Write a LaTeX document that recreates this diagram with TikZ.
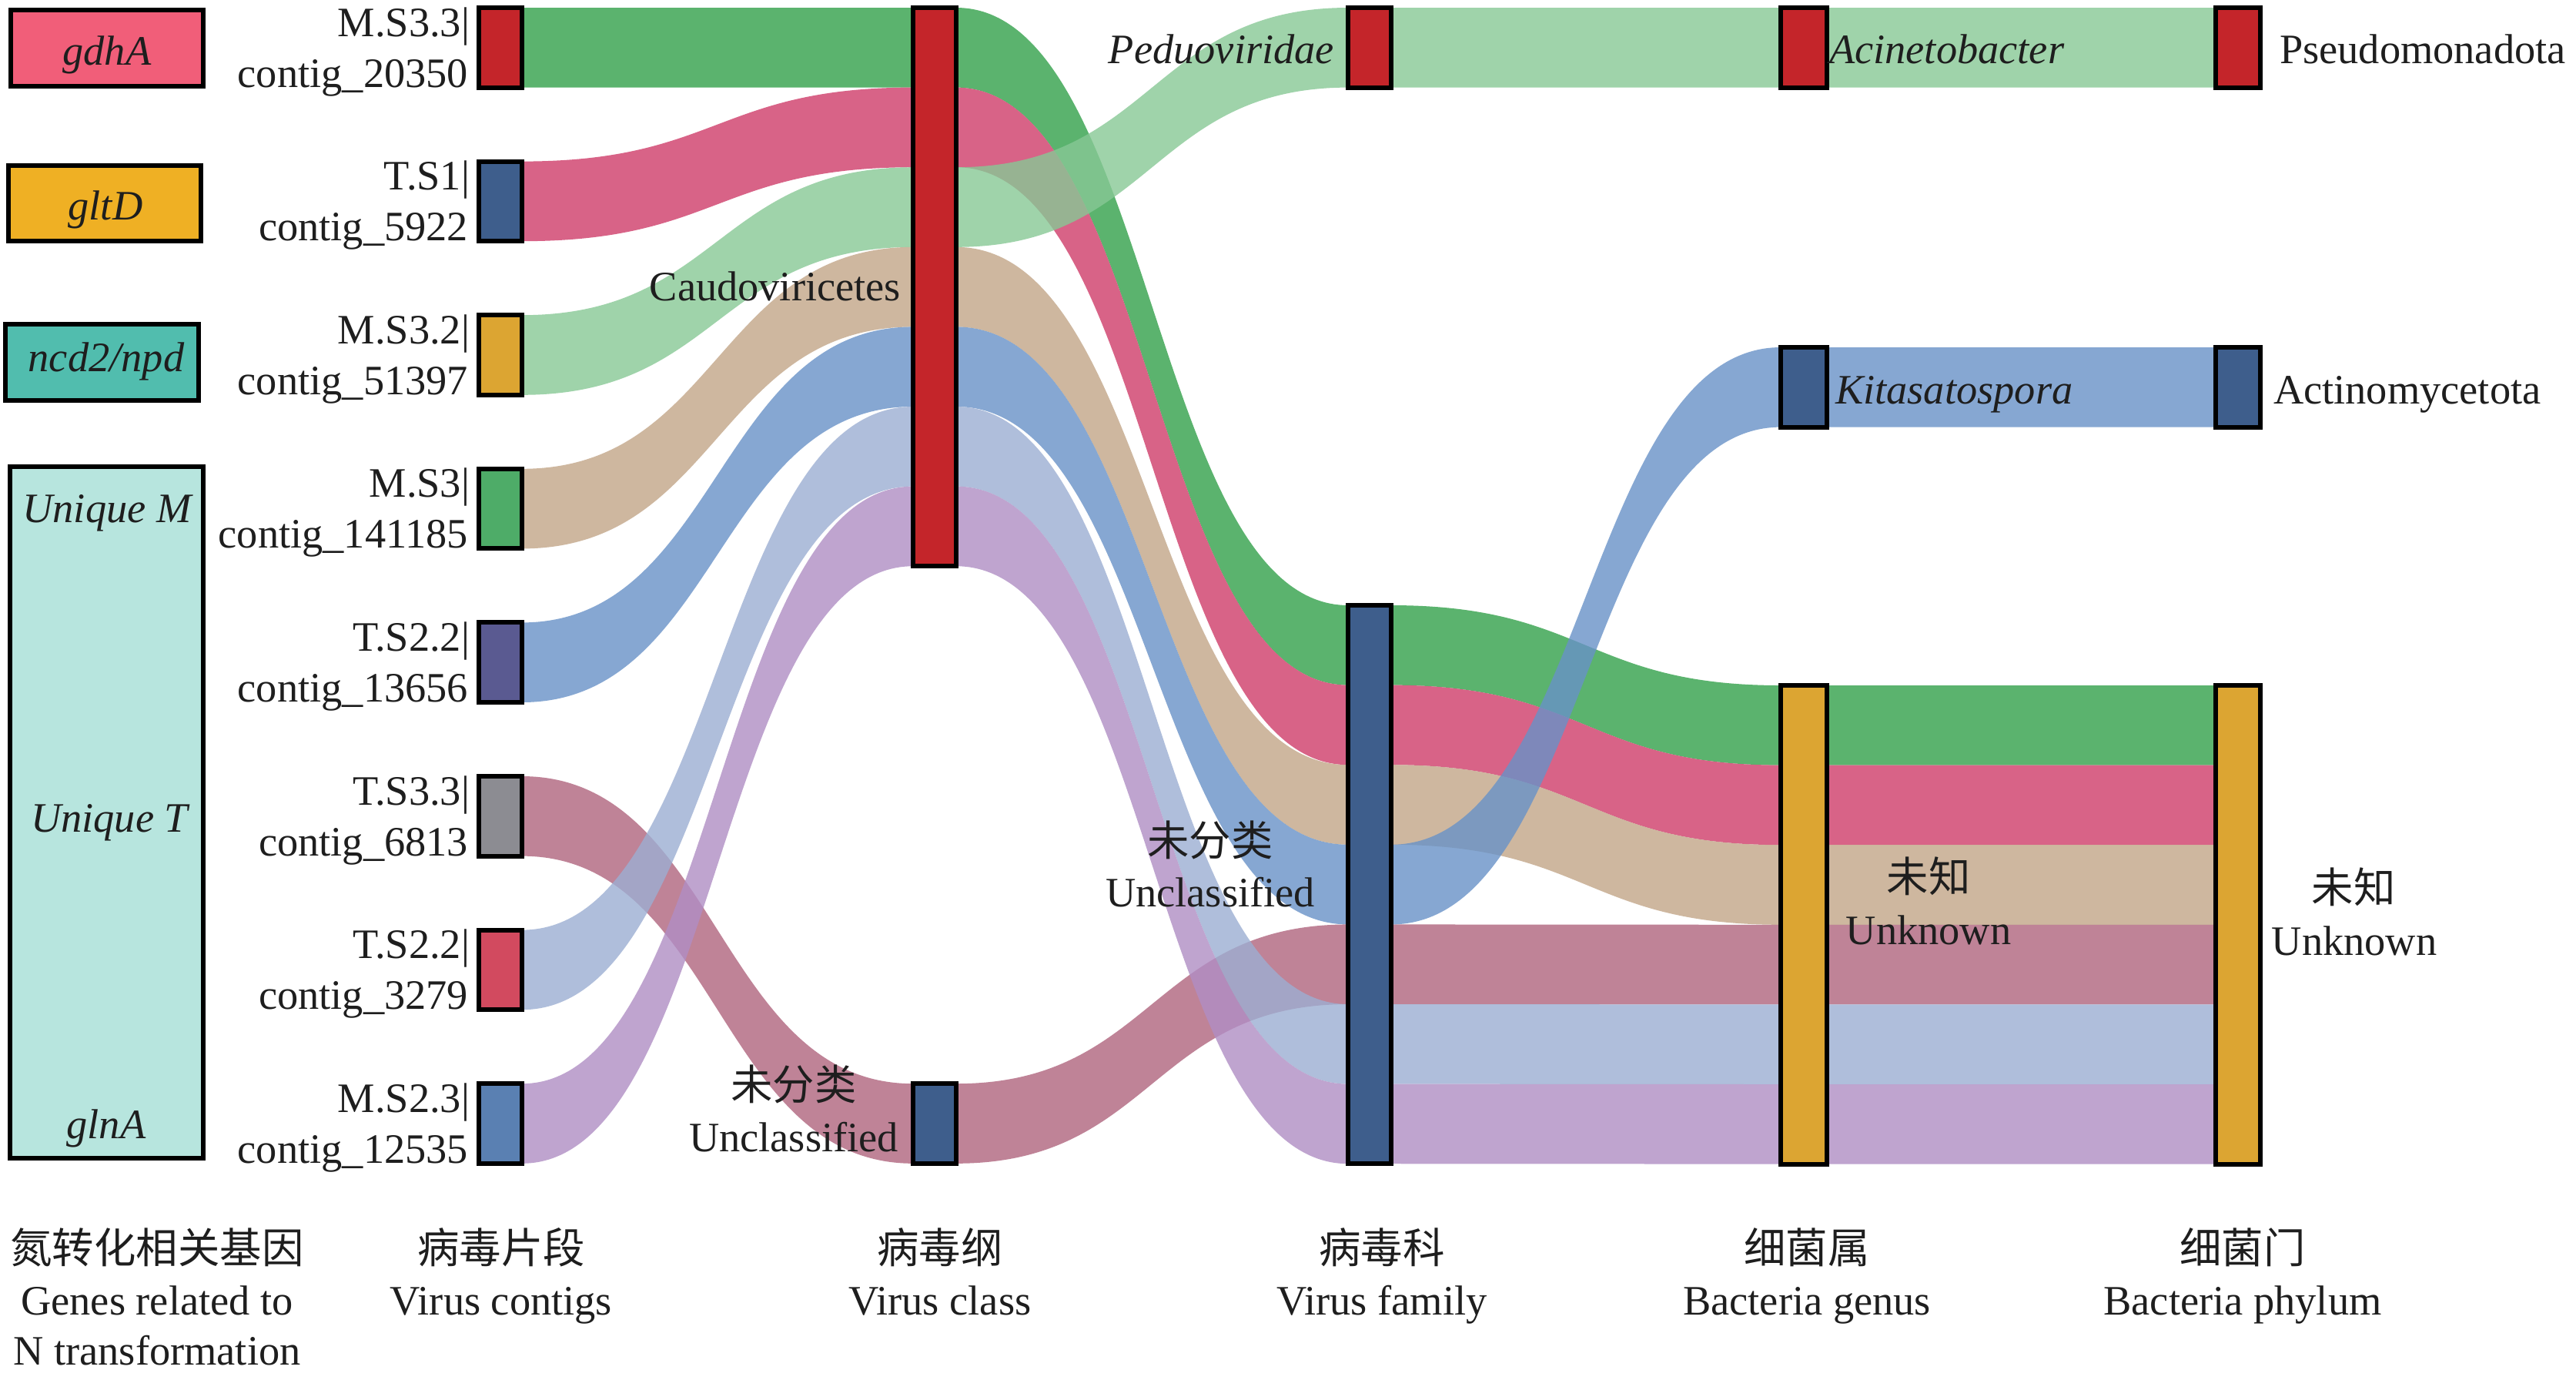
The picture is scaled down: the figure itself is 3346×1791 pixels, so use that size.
\documentclass[tikz,border=0pt]{standalone}
\usepackage{fontspec}
\setmainfont{Liberation Serif}
\newfontfamily\cjk{Noto Sans CJK SC}
\usetikzlibrary{calc,backgrounds}
\definecolor{cred}{RGB}{196,37,42}
\definecolor{cdblue}{RGB}{62,94,140}
\definecolor{cgold}{RGB}{220,165,50}
\definecolor{cgreen}{RGB}{78,172,104}
\definecolor{cslate}{RGB}{90,90,145}
\definecolor{cgray}{RGB}{140,140,146}
\definecolor{crose}{RGB}{210,74,95}
\definecolor{csteel}{RGB}{90,128,178}
\definecolor{ggdha}{RGB}{241,94,121}
\definecolor{ggltd}{RGB}{239,176,36}
\definecolor{gncd}{RGB}{81,189,174}
\definecolor{guniq}{RGB}{183,229,222}
\definecolor{fgreen}{RGB}{50,160,74}
\definecolor{fpink}{RGB}{207,61,106}
\definecolor{flgreen}{RGB}{135,200,149}
\definecolor{ftan}{RGB}{194,165,136}
\definecolor{fblue}{RGB}{104,146,199}
\definecolor{fmauve}{RGB}{176,100,126}
\definecolor{flblue}{RGB}{156,174,210}
\definecolor{fpurple}{RGB}{176,142,196}
\definecolor{txt}{RGB}{30,30,30}
\def\slotpt{25.9}
\newcommand\flowband[5]{%
  \fill[#1, flowfill] let \p1=(#2.north east), \p2=(#4.north west),
    \n1={(\x1+\x2)/2}, \n2={\y1-#3*\slotpt}, \n3={\y2-#5*\slotpt},
    \n4={\y1-(#3+1)*\slotpt}, \n5={\y2-(#5+1)*\slotpt} in
    (\x1,\n2) .. controls (\n1,\n2) and (\n1,\n3) .. (\x2,\n3)
    -- (\x2,\n5) .. controls (\n1,\n5) and (\n1,\n4) .. (\x1,\n4) -- cycle;}
\begin{document}
\begin{tikzpicture}[x=0.25pt, y=-0.25pt,
  font=\fontsize{13.6}{16.5}\selectfont,
  bar/.style={rectangle, draw=black, line width=1.5pt, minimum width=14pt, inner sep=0pt, outer sep=0pt},
  genebox/.style={rectangle, draw=black, line width=1.5pt, inner sep=0pt, outer sep=0pt},
  lbl/.style={inner sep=0pt, outer sep=0pt, text=txt},
  ilbl/.style={lbl, font=\fontsize{13.6}{16.5}\selectfont\itshape},
  clbl/.style={lbl, font=\fontsize{13.6}{16.5}\selectfont\cjk},
  flowfill/.style={fill opacity=0.8}]
\useasboundingbox (0,0) rectangle (3346,1791);

% gene boxes
\node[genebox, fill=ggdha, minimum width=62.5pt, minimum height=24.75pt] (gdha) at (139,62.5) {};
\node[genebox, fill=ggltd, minimum width=62.5pt, minimum height=24.5pt] (gltd) at (136,264) {};
\node[genebox, fill=gncd, minimum width=62.75pt, minimum height=24.75pt] (ncd) at (132.5,470.5) {};
\node[genebox, fill=guniq, minimum width=62.75pt, minimum height=224.5pt] (uniq) at (138.5,1055) {};
\node[ilbl, anchor=base] (gdhat) at (139,84) {gdhA};
\node[ilbl, anchor=base] (gltdt) at (137,285) {gltD};
\node[ilbl, anchor=base] (ncdt) at (138,482) {ncd2/npd};
\node[ilbl, anchor=base] (umt) at (139,678) {Unique M};
\node[ilbl, anchor=base] (utt) at (142,1080) {Unique T};
\node[ilbl, anchor=base] (glnt) at (138,1478) {glnA};

% contig bars
\node[bar, fill=cred,   minimum height=25.9pt] (c1) at (650,61.8) {};
\node[bar, fill=cdblue, minimum height=25.9pt] (c2) at (650,261.4) {};
\node[bar, fill=cgold,  minimum height=25.9pt] (c3) at (650,461) {};
\node[bar, fill=cgreen, minimum height=25.9pt] (c4) at (650,660.6) {};
\node[bar, fill=cslate, minimum height=25.9pt] (c5) at (650,860.2) {};
\node[bar, fill=cgray,  minimum height=25.9pt] (c6) at (650,1059.8) {};
\node[bar, fill=crose,  minimum height=25.9pt] (c7) at (650,1259.4) {};
\node[bar, fill=csteel, minimum height=25.9pt] (c8) at (650,1459) {};
% class bars
\node[bar, fill=cred,   minimum height=181.3pt] (caudo) at (1214,372.6) {};
\node[bar, fill=cdblue, minimum height=25.9pt] (cunc) at (1214,1459) {};
% family bars
\node[bar, fill=cred,   minimum height=25.9pt] (pedu) at (1779,61.8) {};
\node[bar, fill=cdblue, minimum height=181.3pt] (func) at (1779,1148.6) {};
% genus bars
\node[bar, fill=cred,   minimum height=25.9pt, minimum width=15pt] (acin) at (2343,61.8) {};
\node[bar, fill=cdblue, minimum height=25.9pt, minimum width=15pt] (kita) at (2343,502.8) {};
\node[bar, fill=cgold,  minimum height=155.4pt, minimum width=15pt] (gunk) at (2343,1200.8) {};
% phylum bars
\node[bar, fill=cred,   minimum height=25.9pt, minimum width=14.5pt] (pseu) at (2906.5,61.8) {};
\node[bar, fill=cdblue, minimum height=25.9pt, minimum width=14.5pt] (acti) at (2906.5,502.8) {};
\node[bar, fill=cgold,  minimum height=155.4pt, minimum width=14.5pt] (punk) at (2906.5,1200.8) {};

\begin{scope}[on background layer]
\fill[white] (0,0) rectangle (3346,1791);
% contigs -> class
\flowband{fgreen}{c1}{0}{caudo}{0}
\flowband{fpink}{c2}{0}{caudo}{1}
\flowband{flgreen}{c3}{0}{caudo}{2}
\flowband{ftan}{c4}{0}{caudo}{3}
\flowband{fblue}{c5}{0}{caudo}{4}
\flowband{fmauve}{c6}{0}{cunc}{0}
\flowband{flblue}{c7}{0}{caudo}{5}
\flowband{fpurple}{c8}{0}{caudo}{6}
% class -> family
\flowband{fgreen}{caudo}{0}{func}{0}
\flowband{fpink}{caudo}{1}{func}{1}
\flowband{ftan}{caudo}{3}{func}{2}
\flowband{fblue}{caudo}{4}{func}{3}
\flowband{fmauve}{cunc}{0}{func}{4}
\flowband{flblue}{caudo}{5}{func}{5}
\flowband{fpurple}{caudo}{6}{func}{6}
\flowband{flgreen}{caudo}{2}{pedu}{0}
% family -> genus
\flowband{flgreen}{pedu}{0}{acin}{0}
\flowband{fgreen}{func}{0}{gunk}{0}
\flowband{fpink}{func}{1}{gunk}{1}
\flowband{ftan}{func}{2}{gunk}{2}
\flowband{fmauve}{func}{4}{gunk}{3}
\flowband{flblue}{func}{5}{gunk}{4}
\flowband{fpurple}{func}{6}{gunk}{5}
\flowband{fblue}{func}{3}{kita}{0}
% genus -> phylum
\flowband{flgreen}{acin}{0}{pseu}{0}
\flowband{fblue}{kita}{0}{acti}{0}
\flowband{fgreen}{gunk}{0}{punk}{0}
\flowband{fpink}{gunk}{1}{punk}{1}
\flowband{ftan}{gunk}{2}{punk}{2}
\flowband{fmauve}{gunk}{3}{punk}{3}
\flowband{flblue}{gunk}{4}{punk}{4}
\flowband{fpurple}{gunk}{5}{punk}{5}
\end{scope}

% contig labels
\node[lbl, anchor=base east] (l1a) at (610,47) {M.S3.3|};
\node[lbl, anchor=base east] (l1b) at (608,113) {contig\_20350};
\node[lbl, anchor=base east] (l2a) at (610,246.6) {T.S1|};
\node[lbl, anchor=base east] (l2b) at (608,312.6) {contig\_5922};
\node[lbl, anchor=base east] (l3a) at (610,446.2) {M.S3.2|};
\node[lbl, anchor=base east] (l3b) at (608,512.2) {contig\_51397};
\node[lbl, anchor=base east] (l4a) at (610,645.8) {M.S3|};
\node[lbl, anchor=base east] (l4b) at (608,711.8) {contig\_141185};
\node[lbl, anchor=base east] (l5a) at (610,845.4) {T.S2.2|};
\node[lbl, anchor=base east] (l5b) at (608,911.4) {contig\_13656};
\node[lbl, anchor=base east] (l6a) at (610,1045) {T.S3.3|};
\node[lbl, anchor=base east] (l6b) at (608,1111) {contig\_6813};
\node[lbl, anchor=base east] (l7a) at (610,1244.6) {T.S2.2|};
\node[lbl, anchor=base east] (l7b) at (608,1310.6) {contig\_3279};
\node[lbl, anchor=base east] (l8a) at (610,1444.2) {M.S2.3|};
\node[lbl, anchor=base east] (l8b) at (608,1510.2) {contig\_12535};

% class labels
\node[lbl, anchor=base east] (caudot) at (1170,390) {Caudoviricetes};
\node[clbl, anchor=base] (cunct1) at (1031,1428) {未分类};
\node[lbl, anchor=base] (cunct2) at (1031,1495) {Unclassified};
% family labels
\node[ilbl, anchor=base east] (pedut) at (1733,82) {Peduoviridae};
\node[clbl, anchor=base] (funct1) at (1572,1111) {未分类};
\node[lbl, anchor=base] (funct2) at (1572,1177) {Unclassified};
% genus labels
\node[ilbl, anchor=base west] (acint) at (2376,82) {Acinetobacter};
\node[ilbl, anchor=base west] (kitat) at (2384,524) {Kitasatospora};
\node[clbl, anchor=base] (gunkt1) at (2505,1158) {未知};
\node[lbl, anchor=base] (gunkt2) at (2505,1226) {Unknown};
% phylum labels
\node[lbl, anchor=base west] (pseut) at (2961,82) {Pseudomonadota};
\node[lbl, anchor=base west] (actit) at (2953,524) {Actinomycetota};
\node[clbl, anchor=base] (punkt1) at (3057,1172) {未知};
\node[lbl, anchor=base] (punkt2) at (3058,1240) {Unknown};

% column titles
\node[clbl, anchor=base] (h1a) at (204,1640) {氮转化相关基因};
\node[lbl, anchor=base] (h1b) at (204,1707) {Genes related to};
\node[lbl, anchor=base] (h1c) at (204,1772) {N transformation};
\node[clbl, anchor=base] (h2a) at (651,1640) {病毒片段};
\node[lbl, anchor=base] (h2b) at (651,1707) {Virus contigs};
\node[clbl, anchor=base] (h3a) at (1221,1640) {病毒纲};
\node[lbl, anchor=base] (h3b) at (1221,1707) {Virus class};
\node[clbl, anchor=base] (h4a) at (1795,1640) {病毒科};
\node[lbl, anchor=base] (h4b) at (1795,1707) {Virus family};
\node[clbl, anchor=base] (h5a) at (2347,1640) {细菌属};
\node[lbl, anchor=base] (h5b) at (2347,1707) {Bacteria genus};
\node[clbl, anchor=base] (h6a) at (2913,1640) {细菌门};
\node[lbl, anchor=base] (h6b) at (2913,1707) {Bacteria phylum};
\end{tikzpicture}
\end{document}
